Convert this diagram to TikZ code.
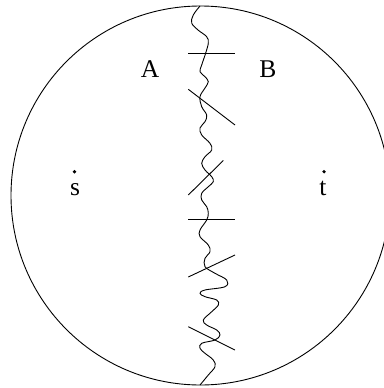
\documentclass[tikz,border=0pt]{standalone}
\usepackage{fontspec}
\setmainfont{Liberation Serif}
\begin{document}
\begin{tikzpicture}[x=1pt,y=-1pt,
  lbl/.style={anchor=base,inner sep=0pt,font=\fontsize{25.5}{30}\selectfont},
  cut/.style={line width=0.9pt},
  dot/.style={circle,fill=black,inner sep=0pt,minimum size=3.6pt}]
\useasboundingbox (0,0) rectangle (383,388);
\draw[line width=0.9pt] (200.5,195.5) circle (189.5);
% wavy line
\draw[line width=0.9pt] plot[smooth,tension=0.6] coordinates {
(200,6) (193.3,15) (191.7,23) (198,30) (206.7,36.7) (208.3,43) (205.7,53)
(201.7,65) (200,71.7) (205,76.7) (208.3,81.7) (205,88) (200,96.7)
(201.7,106.7) (206.7,115) (205,121.7) (200,128) (201.7,135) (210,143.3)
(211.7,150) (205,156.7) (201.7,163.3) (205,170) (211.7,176.7) (213.3,181.7)
(208.3,186.7) (201.7,193.3) (201.7,200) (206.7,206.7) (208.3,213.3) (206.7,220)
(200,230) (200,236.7) (208.3,245) (210,251.7) (205,258.3) (205,266.7)
(215,273.3) (226.7,280) (225,286.7) (205,290) (200,293.3) (205,296.7)
(216.7,300) (218.3,305) (211.7,311.7) (203.3,320) (206.7,325) (216.7,330)
(220,335) (215,340) (201.7,343.3) (200,348.3) (205,353.3) (213.3,360)
(215,366.7) (208.3,375) (200,385)};
% cuts
\coordinate (h1a) at (188.3,53.3); \coordinate (h1b) at (235,53.3);
\coordinate (d1a) at (188.3,89.3); \coordinate (d1b) at (235,125);
\coordinate (d2a) at (188.3,195); \coordinate (d2b) at (223.3,160.5);
\coordinate (h2a) at (188.3,219.5); \coordinate (h2b) at (235,219.5);
\coordinate (d3a) at (188.3,277); \coordinate (d3b) at (235,255);
\coordinate (d4a) at (188.3,326.7); \coordinate (d4b) at (235,350);
\draw[cut] (h1a) -- (h1b);
\draw[cut] (d1a) -- (d1b);
\draw[cut] (d2a) -- (d2b);
\draw[cut] (h2a) -- (h2b);
\draw[cut] (d3a) -- (d3b);
\draw[cut] (d4a) -- (d4b);
% labels
\node[lbl] (A) at (150,77.5) {A};
\node[lbl] (B) at (268,77.5) {B};
\node[lbl] (s) at (75,195.5) {s};
\node[lbl] (t) at (323,195.5) {t};
\node[dot] (sd) at (74.5,171.7) {};
\node[dot] (td) at (324,171.7) {};
\end{tikzpicture}
\end{document}
